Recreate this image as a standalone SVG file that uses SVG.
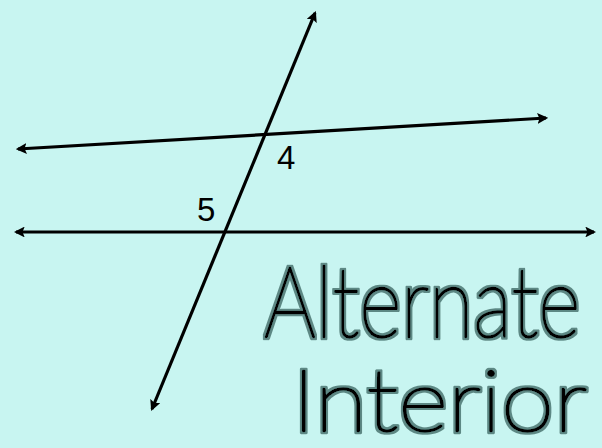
<svg xmlns="http://www.w3.org/2000/svg" width="602" height="448" viewBox="0 0 602 448">
<defs>
<style>
.ln{stroke:#000;stroke-width:3.2;fill:none;marker-start:url(#ah);marker-end:url(#ah)}
.lbl{font-family:"Liberation Sans",Arial,sans-serif;font-size:33px;fill:#000}
.hw{font-family:Lato,"Open Sans",sans-serif;font-weight:100;fill:#000;stroke:#000;stroke-width:2.3;stroke-linejoin:round;filter:url(#halo)}
</style>
<filter id="halo" x="-5%" y="-10%" width="110%" height="120%">
<feMorphology in="SourceAlpha" operator="dilate" radius="2.2" result="d"/>
<feFlood flood-color="#5d8884"/>
<feComposite in2="d" operator="in"/>
<feMerge><feMergeNode/><feMergeNode in="SourceGraphic"/></feMerge>
</filter>
<marker id="ah" viewBox="0 0 10 10" refX="8" refY="5" markerWidth="3.4" markerHeight="3.4" orient="auto-start-reverse" markerUnits="strokeWidth">
<path d="M0,0 L10,5 L0,10 L2,5 Z" fill="#000"/>
</marker>
</defs>
<rect width="602" height="448" fill="#c8f5f1"/>
<g id="connectors">
<line class="ln" x1="18" y1="149" x2="546" y2="118"/>
<line class="ln" x1="16" y1="232" x2="594" y2="232"/>
<line class="ln" x1="152" y1="409" x2="315" y2="13"/>
</g>
<g id="label-4"><text class="lbl" x="277" y="169">4</text></g>
<g id="label-5"><text class="lbl" x="197" y="221">5</text></g>
<g id="title">
<g transform="translate(264,337) scale(0.85,1)">
<text class="hw" x="0" y="0" font-size="98" textLength="372" lengthAdjust="spacingAndGlyphs">Alternate</text>
</g>
<g transform="translate(292,431) scale(0.9,1)">
<text class="hw" x="0" y="0" font-size="86" textLength="328" lengthAdjust="spacingAndGlyphs">Interior</text>
</g>
</g>
</svg>
